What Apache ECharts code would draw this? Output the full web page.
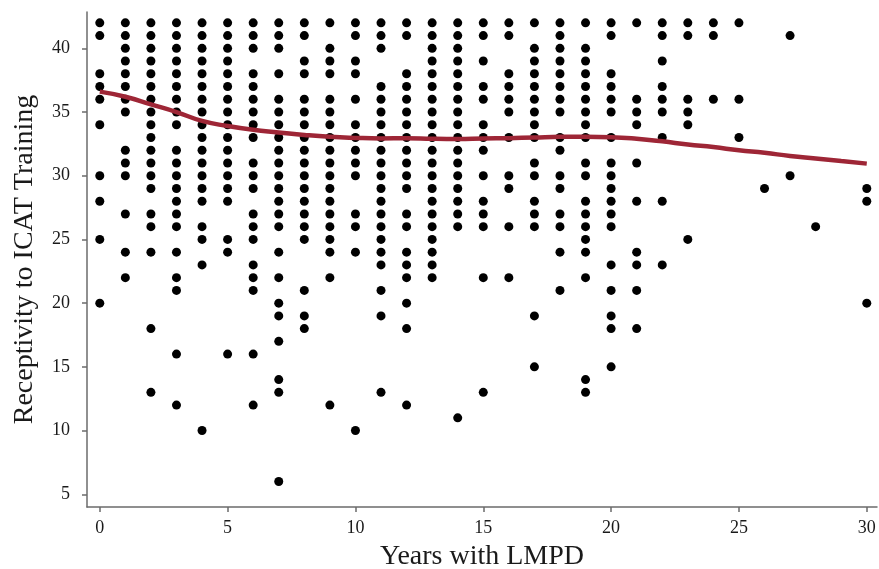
<!DOCTYPE html>
<html>
<head>
<meta charset="utf-8">
<script src="https://cdn.jsdelivr.net/npm/echarts@6/dist/echarts.min.js"></script>
<style>
    html, body { margin: 0; padding: 0; background: #fff; }
    #chart { width: 879px; height: 569px; }
</style>
</head>
<body>
<div id="chart"></div>
<script>
// Receptivity scores observed at each year of service (index = years with LMPD)
const years = [0, 1, 2, 3, 4, 5, 6, 7, 8, 9, 10, 11, 12, 13, 14, 15,
    16, 17, 18, 19, 20, 21, 22, 23, 24, 25, 26, 27, 28, 29, 30];
const receptivity = [
    [42, 41, 38, 37, 36, 34, 30, 28, 25, 20],
    [42, 41, 40, 39, 38, 37, 36, 35, 32, 31, 30, 27, 24, 22],
    [42, 41, 40, 39, 38, 37, 36, 35, 34, 33, 32, 31, 30, 29, 27, 26, 24, 18, 13],
    [42, 41, 40, 39, 38, 37, 36, 35, 34, 32, 31, 30, 29, 28, 27, 26, 24, 22, 21, 16, 12],
    [42, 41, 40, 39, 38, 37, 36, 35, 34, 33, 32, 31, 30, 29, 28, 26, 25, 23, 10],
    [42, 41, 40, 39, 38, 37, 36, 35, 34, 33, 32, 31, 30, 29, 28, 25, 24, 16],
    [42, 41, 40, 38, 37, 36, 35, 34, 33, 31, 30, 29, 27, 26, 25, 23, 22, 21, 16, 12],
    [42, 41, 40, 38, 36, 35, 34, 33, 32, 31, 30, 29, 28, 27, 26, 24, 22, 20, 19, 17, 14, 13, 6],
    [42, 41, 39, 38, 36, 35, 34, 33, 32, 31, 30, 29, 28, 27, 26, 25, 21, 19, 18],
    [42, 40, 39, 38, 36, 35, 34, 33, 32, 31, 30, 29, 28, 27, 26, 25, 24, 22, 12],
    [42, 41, 39, 38, 36, 34, 33, 32, 31, 30, 27, 26, 24, 10],
    [42, 41, 40, 37, 36, 35, 34, 33, 32, 31, 30, 29, 28, 27, 26, 25, 24, 23, 21, 19, 13],
    [42, 41, 38, 37, 36, 35, 34, 33, 32, 31, 30, 29, 27, 26, 24, 23, 22, 20, 18, 12],
    [42, 41, 40, 39, 38, 37, 36, 35, 34, 33, 32, 31, 30, 29, 28, 27, 26, 25, 24, 23, 22],
    [42, 41, 40, 39, 38, 37, 36, 35, 34, 33, 32, 31, 30, 29, 28, 27, 26, 11],
    [42, 41, 39, 37, 36, 34, 33, 32, 30, 28, 27, 26, 22, 13],
    [42, 41, 38, 37, 36, 35, 33, 30, 29, 26, 22],
    [42, 40, 39, 38, 37, 36, 35, 34, 33, 31, 30, 28, 27, 26, 19, 15],
    [42, 41, 40, 39, 38, 37, 36, 35, 33, 32, 30, 29, 27, 26, 24, 21],
    [42, 40, 39, 38, 37, 36, 35, 34, 33, 31, 30, 28, 27, 26, 25, 24, 22, 14, 13],
    [42, 41, 38, 37, 36, 35, 33, 31, 30, 29, 28, 27, 26, 23, 21, 19, 18, 15],
    [42, 36, 35, 34, 31, 28, 24, 23, 21, 18],
    [42, 41, 39, 37, 36, 35, 33, 28, 23],
    [42, 41, 36, 35, 34, 25],
    [42, 41, 36],
    [42, 36, 33],
    [29],
    [41, 30],
    [26],
    [],
    [29, 28, 20]
];

// Smoothed (lowess) fit
const trendYears = [0, 1, 2, 3, 4, 5, 6, 7, 8, 9, 10, 11, 12, 13, 14, 15,
    16, 17, 18, 19, 20, 21, 22, 23, 24, 25, 26, 27, 28, 29, 30];
const trendValues = [36.6, 36.2, 35.6, 35.0, 34.3, 33.9, 33.6, 33.4, 33.2, 33.05, 32.97, 32.93,
    32.95, 32.9, 32.88, 32.92, 32.95, 33.0, 33.05, 33.05, 33.02, 32.9, 32.7, 32.45,
    32.25, 32.0, 31.8, 31.55, 31.35, 31.15, 30.95];

const xTicks = [0, 5, 10, 15, 20, 25, 30];
const yTicks = [5, 10, 15, 20, 25, 30, 35, 40];

const points = [];
years.forEach((yr, i) => {
    for (const v of receptivity[i]) points.push([yr, v]);
});
const trend = trendYears.map((yr, i) => [yr, trendValues[i]]);

const chart = echarts.init(document.getElementById('chart'));
const serif = '"Liberation Serif", "DejaVu Serif", serif';
const axisGrey = '#6b6b6b';

chart.setOption({
    animation: false,
    grid: { left: 87, right: 2, top: 12, bottom: 62, outerBoundsMode: 'none' },
    xAxis: {
        type: 'value',
        min: -0.5,
        max: 30.4,
        name: 'Years with LMPD',
        nameLocation: 'middle',
        nameGap: 36,
        nameTextStyle: { fontFamily: serif, fontSize: 28, color: '#1a1a1a' },
        axisLine: { show: true, onZero: false, lineStyle: { color: axisGrey, width: 1.5 } },
        axisTick: { show: true, length: 5, lineStyle: { color: axisGrey, width: 1.5 }, customValues: xTicks },
        axisLabel: { fontFamily: serif, fontSize: 18, color: '#1a1a1a', margin: 12, customValues: xTicks },
        splitLine: { show: false }
    },
    yAxis: {
        type: 'value',
        min: 4.0,
        max: 42.85,
        name: 'Receptivity to ICAT Training',
        nameLocation: 'middle',
        nameGap: 48,
        nameTextStyle: { fontFamily: serif, fontSize: 28, color: '#1a1a1a' },
        axisLine: { show: true, onZero: false, lineStyle: { color: axisGrey, width: 1.5 } },
        axisTick: { show: true, length: 5, lineStyle: { color: axisGrey, width: 1.5 }, customValues: yTicks },
        axisLabel: { fontFamily: serif, fontSize: 18, color: '#1a1a1a', margin: 17, customValues: yTicks },
        splitLine: { show: false }
    },
    series: [
        {
            type: 'scatter',
            data: points,
            symbol: 'circle',
            symbolSize: 9,
            itemStyle: { color: '#000', opacity: 1 },
            z: 2
        },
        {
            type: 'line',
            data: trend,
            smooth: true,
            showSymbol: false,
            lineStyle: { color: '#9e2636', width: 4.5 },
            z: 3
        }
    ]
});
</script>
</body>
</html>
